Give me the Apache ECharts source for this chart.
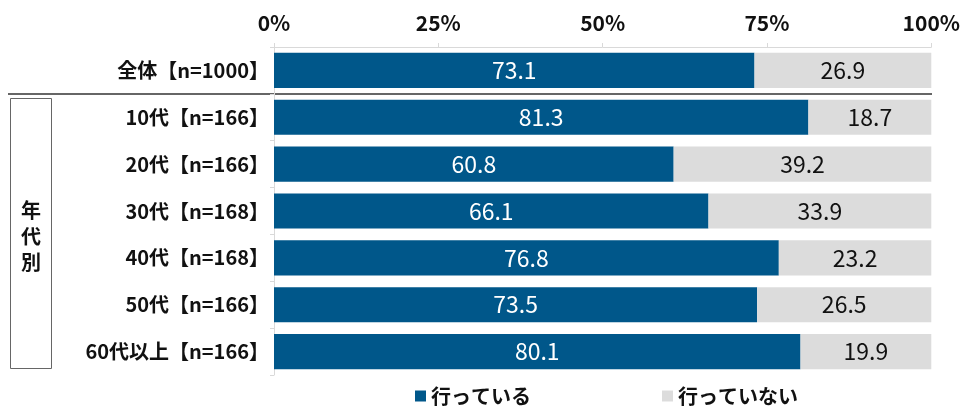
<!DOCTYPE html>
<html>
<head>
<meta charset="utf-8">
<script src="https://cdn.jsdelivr.net/npm/echarts@6/dist/echarts.min.js"></script>
<style>
  html, body { margin: 0; padding: 0; background: #fff; }
  #main { width: 963px; height: 408px; }
</style>
</head>
<body>
<div id="main"></div>
<script>
var categories = ['全体【n=1000】', '10代【n=166】', '20代【n=166】', '30代【n=168】', '40代【n=168】', '50代【n=166】', '60代以上【n=166】'];
var going = [73.1, 81.3, 60.8, 66.1, 76.8, 73.5, 80.1];
var notGoing = [26.9, 18.7, 39.2, 33.9, 23.2, 26.5, 19.9];
var seriesNames = ['行っている', '行っていない'];
var groupLabel = '年代別';

var font = '"Noto Sans CJK JP", sans-serif';
var myChart = echarts.init(document.getElementById('main'));

function valueLabel(color) {
    return {
        show: true,
        position: 'inside',
        color: color,
        fontFamily: font,
        fontSize: 23,
        formatter: function(p) { return p.value.toFixed(1); }
    };
}

var option = {
    backgroundColor: '#fff',
    animation: false,
    textStyle: { fontFamily: font },
    grid: {
        left: 274,
        right: 31,
        top: 47,
        bottom: 33
    },
    legend: {
        left: 410,
        top: 381,
        itemWidth: 11,
        itemHeight: 11,
        itemGap: 131,
        icon: 'rect',
        textStyle: { fontFamily: font, fontSize: 20, fontWeight: 'bold', color: '#111' },
        data: seriesNames
    },
    xAxis: {
        type: 'value',
        position: 'top',
        min: 0,
        max: 100,
        interval: 25,
        axisLine: { show: true, lineStyle: { color: '#d9d9d9', width: 1 } },
        axisTick: { show: true, length: 4, lineStyle: { color: '#d9d9d9' } },
        splitLine: { show: false },
        axisLabel: {
            formatter: '{value}%',
            fontFamily: font,
            fontSize: 21,
            fontWeight: 'bold',
            color: '#111',
            margin: 13
        }
    },
    yAxis: {
        type: 'category',
        inverse: true,
        data: categories,
        axisLine: { show: true, lineStyle: { color: '#d9d9d9', width: 1 } },
        axisTick: { show: true, length: 4, lineStyle: { color: '#d9d9d9' } },
        axisLabel: {
            fontFamily: font,
            fontSize: 20,
            fontWeight: 'bold',
            color: '#111',
            margin: 5
        }
    },
    series: [{
        name: seriesNames[0],
        type: 'bar',
        stack: 'total',
        barWidth: '75%',
        itemStyle: { color: '#00578a' },
        label: valueLabel('#fff'),
        data: going
    }, {
        name: seriesNames[1],
        type: 'bar',
        stack: 'total',
        barWidth: '75%',
        itemStyle: { color: '#dcdcdc' },
        label: valueLabel('#111'),
        data: notGoing
    }],
    graphic: [{
        type: 'line',
        shape: { x1: 8, y1: 94, x2: 932, y2: 94 },
        style: { stroke: '#666', lineWidth: 2 }
    }, {
        type: 'rect',
        shape: { x: 10.5, y: 98.5, width: 41, height: 270 },
        style: { fill: 'none', stroke: '#666', lineWidth: 1 }
    }, {
        type: 'text',
        x: 31,
        y: 236,
        style: {
            text: groupLabel.split('').join('\n'),
            fontFamily: font,
            fontSize: 20,
            fontWeight: 'bold',
            lineHeight: 26,
            fill: '#111',
            align: 'center',
            verticalAlign: 'middle'
        }
    }]
};

myChart.setOption(option);
</script>
</body>
</html>
